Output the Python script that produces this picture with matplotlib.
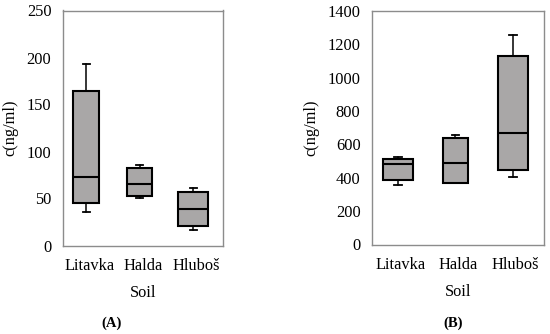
import matplotlib
matplotlib.use("Agg")
import matplotlib.pyplot as plt

plt.rcParams['font.family'] = ['Liberation Serif', 'DejaVu Serif']

categories = ["Litavka", "Halda", "Hluboš"]

# Panel A
a_whislo = [36, 51, 16]
a_q1 = [45, 53, 21]
a_med = [73, 65, 39]
a_q3 = [164, 82, 57]
a_whishi = [193, 86, 61]
a_yticks = [0, 50, 100, 150, 200, 250]

# Panel B
b_whislo = [356, 366, 406]
b_q1 = [384, 368, 448]
b_med = [484, 486, 665]
b_q3 = [512, 637, 1130]
b_whishi = [522, 653, 1254]
b_yticks = [0, 200, 400, 600, 800, 1000, 1200, 1400]

W, H = 550, 334
fig = plt.figure(figsize=(W / 100, H / 100), dpi=100)

def make_axes(l, r, t, b):
    return fig.add_axes([l / W, 1 - b / H, (r - l) / W, (b - t) / H])

fs = 11.8

def draw(ax, lo, q1, med, q3, hi, yticks, widths, shift, label, lab_x):
    stats = []
    for i in range(len(categories)):
        stats.append(dict(whislo=lo[i], q1=q1[i], med=med[i], q3=q3[i], whishi=hi[i], label=categories[i]))
    pos = [i + shift for i in range(len(categories))]
    ax.bxp(stats, positions=pos, widths=widths, showfliers=False,
           patch_artist=True, capwidths=0.13,
           boxprops=dict(facecolor="#a9a7a7", edgecolor="black", linewidth=1.5),
           medianprops=dict(color="black", linewidth=1.5),
           whiskerprops=dict(color="black", linewidth=1.1),
           capprops=dict(color="black", linewidth=1.3))
    ax.set_xlim(-0.5, len(categories) - 0.5)
    ax.set_ylim(yticks[0], yticks[-1])
    ax.set_yticks(yticks)
    ax.set_xticks(range(len(categories)))
    ax.set_xticklabels(categories)
    ax.tick_params(axis="both", length=0, labelsize=fs)
    ax.tick_params(axis="y", pad=8)
    ax.tick_params(axis="x", pad=9)
    for s in ax.spines.values():
        s.set_color("#8c8c8c")
        s.set_linewidth(1.0)
    ax.set_ylabel("c(ng/ml)", fontsize=fs, labelpad=6)
    ax.set_xlabel("Soil", fontsize=fs, labelpad=8)
    fig.text(lab_x / W, 1 - 323 / H, label, ha="center", va="center", fontsize=10.5,
             fontweight="bold")

axA = make_axes(62.5, 223, 10.5, 245.5)
draw(axA, a_whislo, a_q1, a_med, a_q3, a_whishi, a_yticks, [0.47, 0.46, 0.57],
     -0.06, "(A)", 112)

axB = make_axes(371.7, 544.3, 10.7, 244.5)
draw(axB, b_whislo, b_q1, b_med, b_q3, b_whishi, b_yticks, [0.53, 0.43, 0.53],
     -0.045, "(B)", 453)

fig.savefig("out.png", dpi=100)
